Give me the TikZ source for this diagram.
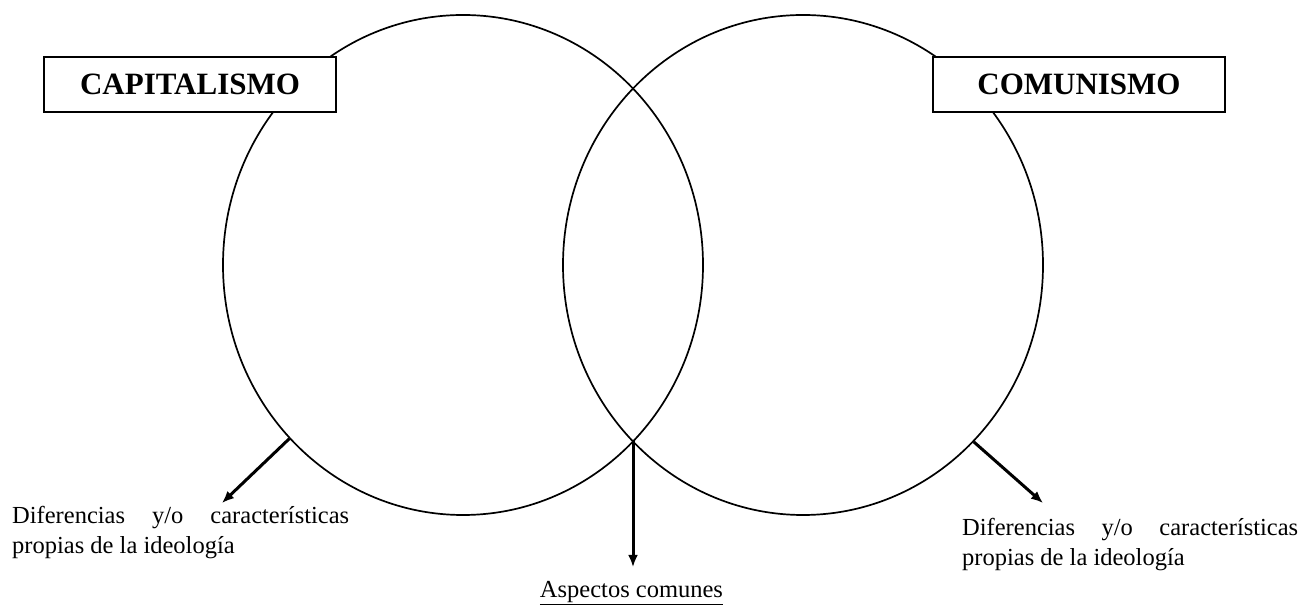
\documentclass[tikz,border=0pt]{standalone}
\usepackage{fontspec}
\setmainfont{Liberation Serif}
\usetikzlibrary{shapes.geometric,arrows.meta}
\begin{document}
\begin{tikzpicture}[x=1pt,y=1pt,
  circ/.style={draw, ellipse, line width=1.7pt, minimum width=480pt, minimum height=500pt, inner sep=0pt},
  titlebox/.style={draw, fill=white, line width=2.2pt, minimum width=292pt, minimum height=55pt, inner sep=0pt, font=\fontsize{31}{36}\selectfont\bfseries},
  pointer/.style={line width=3pt, -{Latex[length=12pt,width=10pt]}},
  note/.style={inner sep=0pt, anchor=base west, align=left, font=\fontsize{24.5}{30}\selectfont}]
\useasboundingbox (0,0) rectangle (1315,607);
\node[circ] (L) at (463,342) {};
\node[circ] (R) at (803,342) {};
\node[titlebox] (cap) at (190,522.5) {CAPITALISMO};
\node[titlebox] (com) at (1079,522.5) {COMUNISMO};
\coordinate (X) at (633,165.5);
\coordinate (eL) at (222,104);
\coordinate (eM) at (633,40);
\coordinate (eR) at (1043,104);
\draw[pointer] (L.225) -- (eL);
\draw[pointer] (X) -- (eM);
\draw[pointer] (R.-46) -- (eR);
\node[note] (dL) at (12,53) {\makebox[337pt][s]{Diferencias y/o características}\\propias de la ideología};
\node[note] (dR) at (962,41) {\makebox[336pt][s]{Diferencias y/o características}\\propias de la ideología};
\node[inner sep=0pt, anchor=base, font=\fontsize{24.5}{30}\selectfont] (ac) at (631.5,9) {\underline{Aspectos comunes}};
\end{tikzpicture}
\end{document}
